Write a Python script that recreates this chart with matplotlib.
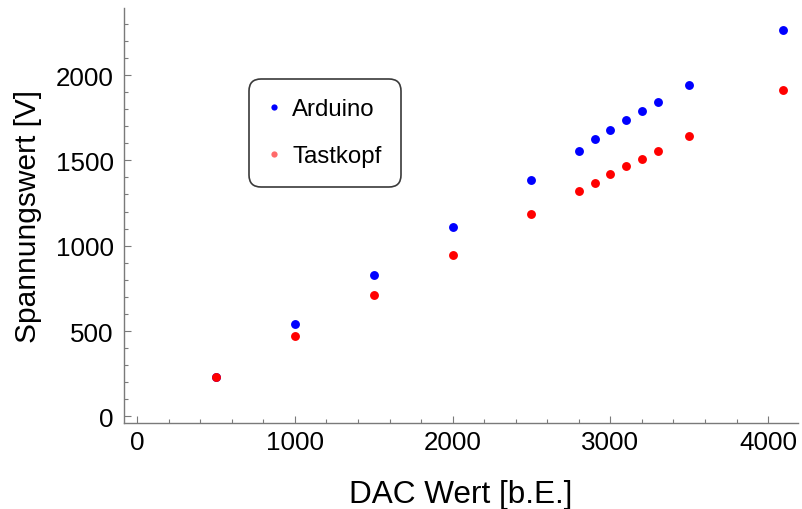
#!/usr/bin/env python3
"""DAC Wert vs. gemessene Spannung (Arduino / Tastkopf)."""

import matplotlib

matplotlib.use("Agg")
import matplotlib.pyplot as plt
from matplotlib.lines import Line2D
from matplotlib.ticker import MultipleLocator

plt.rcParams["font.family"] = ["Liberation Sans", "DejaVu Sans"]

dac_values = [500, 1000, 1500, 2000, 2500, 2800, 2900, 3000, 3100, 3200, 3300, 3500, 4095]
arduino_volts = [229, 543, 829, 1108, 1384, 1554, 1628, 1680, 1735, 1788, 1843, 1941, 2263]
tastkopf_volts = [229, 471, 713, 946, 1186, 1321, 1366, 1421, 1466, 1509, 1554, 1643, 1915]

axis_color = "#7a7a7a"

fig = plt.figure(figsize=(8.03, 5.10), dpi=100)
ax = fig.add_axes([0.1538, 0.1686, 0.8400, 0.8132])

ax.plot(dac_values, arduino_volts, "o", color="#0000ff", markersize=6.4,
        markeredgewidth=0, zorder=3)
ax.plot(dac_values, tastkopf_volts, "o", color="#ff0000", markersize=6.4,
        markeredgewidth=0, zorder=4)

ax.set_xlim(-87, 4190)
ax.set_ylim(-39, 2391)

ax.xaxis.set_major_locator(MultipleLocator(1000))
ax.xaxis.set_minor_locator(MultipleLocator(200))
ax.yaxis.set_major_locator(MultipleLocator(500))
ax.yaxis.set_minor_locator(MultipleLocator(100))

for side in ("top", "right"):
    ax.spines[side].set_visible(False)
for side in ("left", "bottom"):
    ax.spines[side].set_color(axis_color)
    ax.spines[side].set_linewidth(1.0)

ax.tick_params(which="both", direction="in", color=axis_color, width=0.8,
               labelsize=18.7, labelcolor="black")
ax.tick_params(which="major", length=5)
ax.tick_params(which="minor", length=3)
ax.tick_params(axis="x", which="both", pad=5)
ax.tick_params(axis="y", which="both", pad=7)

ax.set_xlabel("DAC Wert [b.E.]", fontsize=22.7, labelpad=18)
ax.set_ylabel("Spannungswert [V]", fontsize=21.5, labelpad=10)

handles = [
    Line2D([], [], linestyle="none", marker="o", color="#0000ff",
           markersize=4.5, markeredgewidth=0, label="Arduino"),
    Line2D([], [], linestyle="none", marker="o", color="#ff6a6a",
           markersize=4.5, markeredgewidth=0, label="Tastkopf"),
]
legend = ax.legend(
    handles=handles,
    loc="upper left",
    bbox_to_anchor=(249 / 803, 1 - 80 / 510),
    bbox_transform=fig.transFigure,
    borderaxespad=0,
    fontsize=17.3,
    frameon=True,
    fancybox=True,
    borderpad=0.8,
    labelspacing=1.05,
    handlelength=0.5,
    handletextpad=0.5,
)
frame = legend.get_frame()
frame.set_edgecolor("#3a3a3a")
frame.set_linewidth(1.2)
frame.set_facecolor("white")
frame.set_alpha(1.0)
frame.set_boxstyle("round,pad=0,rounding_size=0.5")

fig.savefig("out.png", dpi=100)
